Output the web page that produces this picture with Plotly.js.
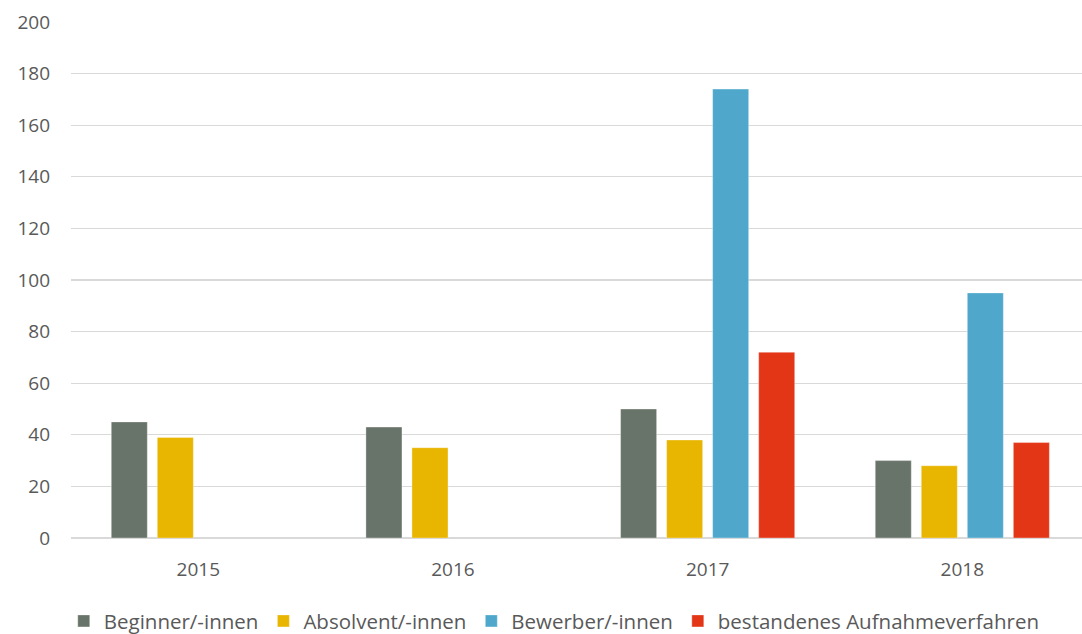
<!DOCTYPE html>
<html>
<head>
<meta charset="utf-8">
<script src="https://cdn.plot.ly/plotly-3.0.1.min.js"></script>
<style>html,body{margin:0;padding:0;background:#fff;overflow:hidden;}</style>
</head>
<body>
<div id="chart" style="width:1082px;height:634px;"></div>
<script>
const years = ["2015", "2016", "2017", "2018"];
const seriesNames = ["Beginner/-innen", "Absolvent/-innen", "Bewerber/-innen", "bestandenes Aufnahmeverfahren"];
const beginner = [45, 43, 50, 30];
const absolvent = [39, 35, 38, 28];
const bewerber = [null, null, 174, 95];
const bestanden = [null, null, 72, 37];
const colors = ["#687369", "#E8B500", "#4FA8CB", "#E33617"];
const yTicks = [0, 20, 40, 60, 80, 100, 120, 140, 160, 180, 200];

const allValues = [beginner, absolvent, bewerber, bestanden];
const traces = allValues.map((vals, i) => ({
  type: "bar",
  x: years,
  y: vals,
  name: seriesNames[i],
  marker: { color: colors[i], line: { color: "rgba(255,255,255,0.35)", width: 1 } },
  hoverinfo: "x+y+name"
}));

const layout = {
  width: 1082,
  height: 634,
  margin: { l: 71, r: 0, t: 22, b: 96, autoexpand: false },
  paper_bgcolor: "#ffffff",
  plot_bgcolor: "#ffffff",
  font: { family: "Open Sans, sans-serif", size: 20, color: "#595959" },
  barmode: "group",
  bargap: 0.277,
  bargroupgap: 0.217,
  showlegend: true,
  legend: {
    orientation: "h",
    x: 0.478,
    xanchor: "center",
    y: -0.161,
    yanchor: "middle",
    font: { family: "Open Sans, sans-serif", size: 20.5, color: "#595959" },
    itemclick: false
  },
  xaxis: {
    type: "category",
    range: [-0.5, 3.47],
    showgrid: false,
    showline: false,
    zeroline: false,
    ticks: "",
    tickfont: { family: "Open Sans, sans-serif", size: 19, color: "#595959" },
    ticklabelstandoff: 18,
    fixedrange: true
  },
  yaxis: {
    range: [0, 200],
    tickvals: yTicks,
    ticktext: yTicks.map(String),
    showgrid: true,
    gridcolor: "#d9d9d9",
    gridwidth: 1.3,
    zeroline: true,
    zerolinecolor: "#d9d9d9",
    zerolinewidth: 2,
    showline: false,
    ticks: "",
    tickfont: { family: "Open Sans, sans-serif", size: 19, color: "#595959" },
    ticklabelstandoff: 20,
    fixedrange: true
  }
};

Plotly.newPlot("chart", traces, layout, { displayModeBar: false, staticPlot: true });
</script>
</body>
</html>
